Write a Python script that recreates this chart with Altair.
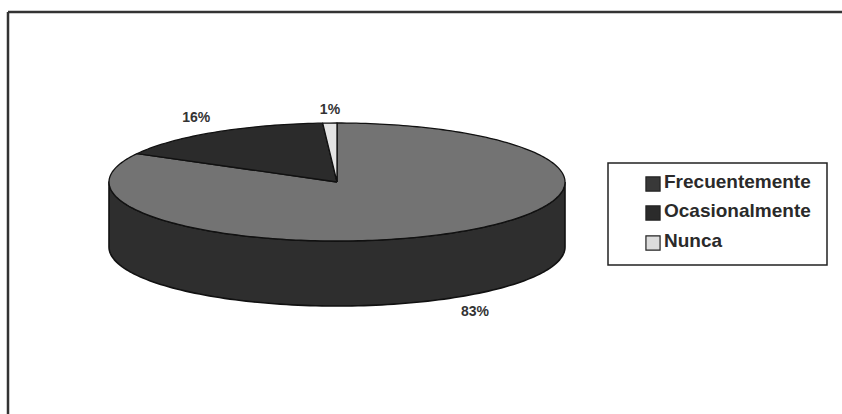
import numpy as np
import pandas as pd
import altair as alt

# ---- data ----
categories = ["Frecuentemente", "Ocasionalmente", "Nunca"]
values = [83, 16, 1]
labels = ["83%", "16%", "1%"]

# ---- styles ----
top_colors = ["#737373", "#2b2b2b", "#e4e4e4"]
side_color = "#2e2e2e"
legend_colors = ["#383838", "#2b2b2b", "#dcdcdc"]

W, H = 842, 414
CX, CY, RX, RY, DEPTH = 337, 182, 228, 59, 65  # pie layout in pixels
D = DEPTH / RY

xs = alt.Scale(domain=[(0 - CX) / RX, (W - CX) / RX], range=[0, W], nice=False, zero=False)
ys = alt.Scale(domain=[(CY - H) / RY, CY / RY], range=[H, 0], nice=False, zero=False)

total = float(sum(values))
fracs = [v / total for v in values]
starts = np.concatenate([[0.0], np.cumsum(fracs)[:-1]])

layers = []

# side (front wall) of the cylinder -- belongs to the first, largest slice
th = np.linspace(np.pi / 2, 3 * np.pi / 2, 120)
top_edge = pd.DataFrame({"X": np.sin(th), "Y": np.cos(th)})
bot_edge = pd.DataFrame({"X": np.sin(th[::-1]), "Y": np.cos(th[::-1]) - D})
side = pd.concat([top_edge, bot_edge, top_edge.iloc[:1]], ignore_index=True)
side["o"] = np.arange(len(side))
layers.append(
    alt.Chart(side).mark_line(fill=side_color, stroke="#111", strokeWidth=1.6, strokeJoin="round").encode(
        x=alt.X("X:Q", scale=xs, axis=None),
        y=alt.Y("Y:Q", scale=ys, axis=None),
        order="o:Q",
    )
)

# top slices
for i, cat in enumerate(categories):
    a0 = starts[i] * 2 * np.pi
    a1 = (starts[i] + fracs[i]) * 2 * np.pi
    n = max(3, int(values[i] * 3))
    t = np.linspace(a0, a1, n)
    Xs = np.concatenate([[0.0], np.sin(t), [0.0]])
    Ys = np.concatenate([[0.0], np.cos(t), [0.0]])
    df = pd.DataFrame({"X": Xs, "Y": Ys, "o": np.arange(len(Xs)), "cat": cat})
    layers.append(
        alt.Chart(df).mark_line(fill=top_colors[i], stroke="#111", strokeWidth=1.3, strokeJoin="round").encode(
            x=alt.X("X:Q", scale=xs, axis=None),
            y=alt.Y("Y:Q", scale=ys, axis=None),
            order="o:Q",
        )
    )

# percentage labels
label_nudge = [(8, 8), (-4, -8), (1, -6)]
for i, lab in enumerate(labels):
    mid = (starts[i] + fracs[i] / 2) * 2 * np.pi
    lx = np.sin(mid) * 1.12
    ly = np.cos(mid) * 1.12 - (D if np.cos(mid) < 0 else 0)
    df = pd.DataFrame({"X": [lx], "Y": [ly], "t": [lab]})
    dx, dy = label_nudge[i]
    layers.append(
        alt.Chart(df).mark_text(font="Liberation Sans", fontWeight="bold", fontSize=14,
                                color="#333", dx=dx, dy=dy, baseline="middle", align="center").encode(
            x=alt.X("X:Q", scale=xs, axis=None),
            y=alt.Y("Y:Q", scale=ys, axis=None),
            text="t:N",
        )
    )

one = alt.Data(values=[{}])

# legend box
layers.append(
    alt.Chart(one).mark_rect(fill="white", stroke="#222", strokeWidth=1.5).encode(
        x=alt.value(608), x2=alt.value(827), y=alt.value(163), y2=alt.value(265)
    )
)
row_y = [182, 211, 241]
for i, cat in enumerate(categories):
    layers.append(
        alt.Chart(one).mark_square(size=200, fill=legend_colors[i], stroke="#222", strokeWidth=1.2, opacity=1).encode(
            x=alt.value(653), y=alt.value(row_y[i] + 2)
        )
    )
    layers.append(
        alt.Chart(pd.DataFrame({"t": [cat]})).mark_text(
            font="Liberation Sans", fontWeight="bold", fontSize=19, color="#2a2a2a",
            align="left", baseline="middle").encode(
            x=alt.value(664), y=alt.value(row_y[i]), text="t:N"
        )
    )

# outer frame
layers.append(
    alt.Chart(one).mark_rule(color="#333", strokeWidth=2.5).encode(
        x=alt.value(8), y=alt.value(12), y2=alt.value(H)
    )
)
layers.append(
    alt.Chart(one).mark_rule(color="#333", strokeWidth=2.5).encode(
        x=alt.value(8), x2=alt.value(W), y=alt.value(12)
    )
)

chart = alt.layer(*layers).properties(
    width=W, height=H, padding=0, autosize=alt.AutoSizeParams(type="none"), background="white"
).configure_view(stroke=None)

chart.save("out.html", embed_options={"renderer": "svg", "actions": False})
